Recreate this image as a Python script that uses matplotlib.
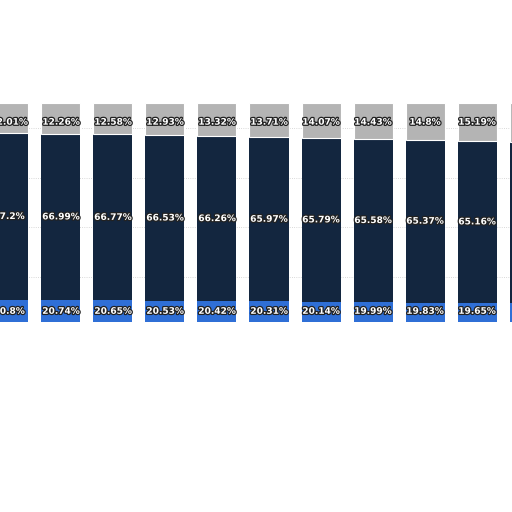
import matplotlib
matplotlib.use("Agg")
import matplotlib.pyplot as plt
import matplotlib.patheffects as pe
import numpy as np

blue = [20.8, 20.74, 20.65, 20.53, 20.42, 20.31, 20.14, 19.99, 19.83, 19.65, 19.5]
dark = [67.2, 66.99, 66.77, 66.53, 66.26, 65.97, 65.79, 65.58, 65.37, 65.16, 64.9]
gray = [12.01, 12.26, 12.58, 12.93, 13.32, 13.71, 14.07, 14.43, 14.8, 15.19, 15.6]

fig = plt.figure(figsize=(5.12, 5.12), dpi=100)
ax = fig.add_axes([0, 1 - 322/512, 1, 219/512])
x = np.arange(len(blue))
b = np.array(blue); d = np.array(dark); g = np.array(gray)
w = 0.75
ax.bar(x, b, w, color="#2f6fd6", zorder=2)
ax.bar(x, d, w, bottom=b, color="#13263f", zorder=2)
ax.bar(x, g, w, bottom=b + d, color="#b4b4b4", edgecolor="white", linewidth=0.8, zorder=2)
for yv in [30, 50, 70, 90]:
    ax.axhline(yv, color="#cccccc", lw=0.6, ls=":", zorder=1)
fx = [pe.withStroke(linewidth=1.8, foreground="#222222")]
for i in x:
    for val, yc in [(blue[i], 16.3), (dark[i], b[i] + d[i] / 2), (gray[i], 92.3)]:
        ax.text(i, yc, f"{val:g}%", ha="center", va="center", color="white",
                fontsize=6.5, fontweight="bold", path_effects=fx, zorder=3)
ax.set_xlim(-0.173, 9.673)
ax.set_ylim(12, 100)
ax.axis("off")
fig.savefig("out.png", dpi=100, facecolor="white")
